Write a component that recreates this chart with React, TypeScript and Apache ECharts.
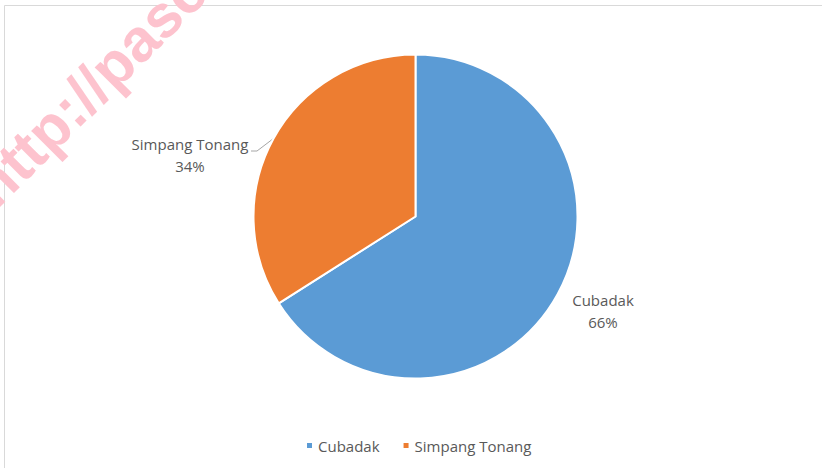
import React, { useEffect, useRef } from "react";
import * as echarts from "echarts";

const categories = ["Cubadak", "Simpang Tonang"];
const values = [66, 34];
const colors = ["#5b9bd5", "#ed7d31"];
const labelCenters: Record<string, [number, number]> = {
  Cubadak: [603, 311],
  "Simpang Tonang": [190, 155],
};
const watermarkText = "http://pasca";

export default function App() {
  const ref = useRef<HTMLDivElement>(null);
  useEffect(() => {
    if (!ref.current) return;
    const chart = echarts.init(ref.current, undefined, { renderer: "svg" });
    const textStyle = { fontFamily: "Open Sans", fontSize: 15, color: "#595959" };
    chart.setOption({
      animation: false,
      backgroundColor: "#ffffff",
      legend: {
        data: categories,
        left: 300,
        top: 433,
        icon: "rect",
        itemWidth: 7,
        itemHeight: 7,
        itemGap: 22,
        textStyle: { ...textStyle, padding: [0, 0, 0, 0] },
      },
      series: [
        {
          type: "pie",
          center: [415.5, 216.5],
          radius: 162,
          startAngle: 90,
          clockwise: true,
          avoidLabelOverlap: false,
          silent: true,
          data: categories.map((c, i) => ({
            name: c,
            value: values[i],
            itemStyle: { color: colors[i] },
            labelLine: { show: i === 1 },
          })),
          itemStyle: { borderColor: "#ffffff", borderWidth: 2 },
          label: {
            show: true,
            position: "outside",
            formatter: "{b}\n{d}%",
            ...textStyle,
            lineHeight: 22,
            align: "center",
          },
          labelLine: {
            show: true,
            length: 10,
            length2: 6,
            lineStyle: { color: "#a6a6a6", width: 1 },
          },
          labelLayout: (params: any) => {
            const name = categories[params.dataIndex];
            const [cx, cy] = labelCenters[name];
            const out: any = { x: cx, y: cy, align: "center", verticalAlign: "middle" };
            if (params.dataIndex === 1) {
              const p = params.labelLinePoints;
              const start = p && p[0] ? p[0] : [273, 138];
              out.labelLinePoints = [start, [257, 151], [251, 151]];
            }
            return out;
          },
        },
      ],
      graphic: [
        {
          type: "rect",
          silent: true,
          z: 1,
          shape: { x: 4.5, y: 5.5, width: 820, height: 480 },
          style: { fill: "none", stroke: "#d9d9d9", lineWidth: 1 },
        },
        {
          type: "text",
          silent: true,
          z: 100,
          x: -18,
          y: 196,
          rotation: (45 * Math.PI) / 180,
          style: {
            text: watermarkText,
            fontFamily: "Liberation Sans",
            fontWeight: "bold",
            fontSize: 60,
            fill: "#fdc3ce",
            textAlign: "left",
            textVerticalAlign: "middle",
          },
        },
      ],
    });
    return () => chart.dispose();
  }, []);
  return (
    <div
      ref={ref}
      style={{ position: "fixed", left: 0, top: 0, width: 822, height: 468 }}
    />
  );
}
